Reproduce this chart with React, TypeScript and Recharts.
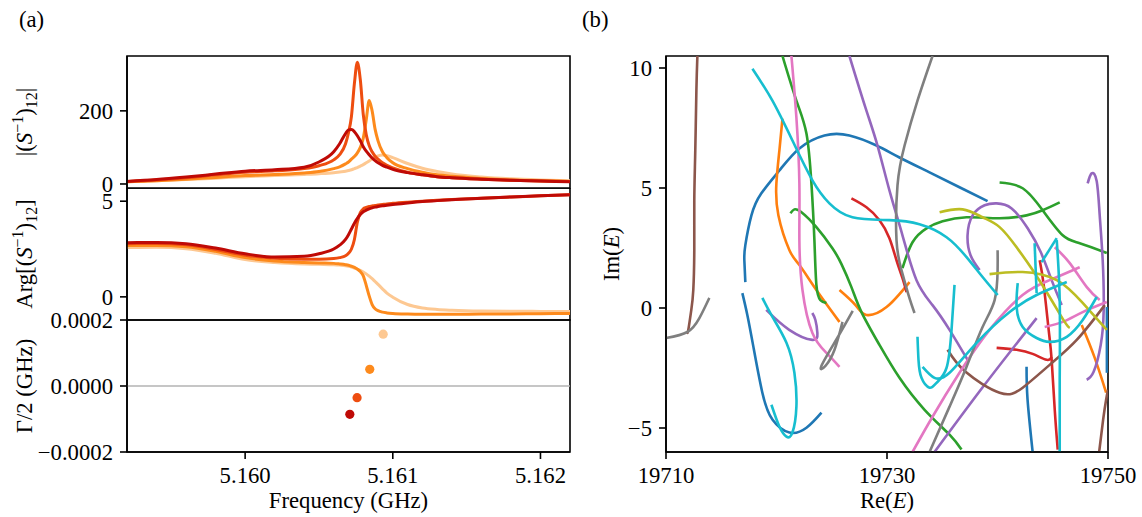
import React from 'react';
import { LineChart, Line, XAxis, YAxis, ScatterChart, Scatter, ReferenceLine, ReferenceArea, Label } from 'recharts';

// ---------- Panel (a) data ----------
const freq = [5.1592, 5.1594, 5.1596, 5.1598, 5.16, 5.1602, 5.1604, 5.1605, 5.1606, 5.16064, 5.16068, 5.1607, 5.16072, 5.16074, 5.16076, 5.16078, 5.1608, 5.16082, 5.16084, 5.16086, 5.16088, 5.1609, 5.16093, 5.16096, 5.161, 5.1611, 5.1612, 5.1613, 5.1614, 5.1616, 5.1618, 5.162, 5.1622];

const magLight = [6, 9, 12, 16, 20, 23, 26, 28, 31, 33, 35, 37, 39, 42, 45, 49, 53, 58, 63, 69, 74, 77, 79, 77, 72, 56, 43, 34, 27, 19, 14, 11, 9];
const magOrange = [6, 9, 13, 18, 23, 26, 30, 34, 42, 47, 55, 60, 68, 75, 85, 100, 125, 175, 228, 200, 150, 118, 88, 72, 58, 42, 32, 25, 21, 15, 11, 9, 7];
const magRedOrange = [7, 11, 17, 25, 32, 36, 42, 50, 66, 80, 110, 140, 185, 275, 333, 285, 190, 135, 105, 88, 76, 68, 58, 51, 44, 32, 25, 20, 17, 13, 10, 8, 7];
const magDark = [7, 12, 19, 27, 35, 39, 46, 60, 88, 110, 138, 148, 149, 143, 132, 118, 102, 90, 80, 71, 64, 58, 51, 46, 40, 31, 25, 20, 17, 13, 10, 8, 6];

const phLight = [2.58, 2.59, 2.52, 2.28, 1.95, 1.8, 1.72, 1.7, 1.68, 1.66, 1.63, 1.6, 1.56, 1.51, 1.45, 1.38, 1.3, 1.2, 1.08, 0.95, 0.8, 0.65, 0.42, 0.2, -0.02, -0.4, -0.58, -0.66, -0.7, -0.74, -0.75, -0.76, -0.76];
const phOrange = [2.68, 2.69, 2.62, 2.38, 2.05, 1.88, 1.8, 1.77, 1.75, 1.72, 1.68, 1.65, 1.6, 1.54, 1.45, 1.32, 1.1, 0.6, 0.05, -0.4, -0.62, -0.72, -0.8, -0.84, -0.87, -0.9, -0.91, -0.91, -0.91, -0.9, -0.89, -0.88, -0.87];
const phRedOrange = [2.78, 2.79, 2.72, 2.48, 2.18, 2.02, 1.96, 1.96, 2.0, 2.05, 2.15, 2.28, 2.5, 3.0, 3.9, 4.4, 4.6, 4.67, 4.72, 4.75, 4.78, 4.8, 4.83, 4.86, 4.89, 4.95, 5.0, 5.05, 5.09, 5.16, 5.22, 5.28, 5.34];
const phDark = [2.83, 2.84, 2.78, 2.55, 2.25, 2.08, 2.12, 2.25, 2.5, 2.7, 3.0, 3.25, 3.55, 3.85, 4.1, 4.3, 4.45, 4.53, 4.6, 4.65, 4.69, 4.72, 4.76, 4.79, 4.83, 4.91, 4.98, 5.03, 5.08, 5.15, 5.22, 5.28, 5.34];

const poleFreq = [5.160935, 5.160844, 5.160758, 5.160709];
const poleHalfWidth = [0.000157, 0.0000505, -0.0000354, -0.0000859];
const seriesColors = ['#fdc892', '#fd8a1c', '#ee4d10', '#bf0a06'];

const magTicks = [0, 200];
const phTicks = [0, 5];
const gammaTicks = [-0.0002, 0, 0.0002];
const freqTicks = [5.16, 5.161, 5.162];

// ---------- Panel (b) data: [Re(E), Im(E)] ----------
const brown1 = [[19712.84, 10.5], [19712.75, 9.06], [19712.65, 6.56], [19712.56, 4.49], [19712.56, 2.41], [19712.47, 0.75], [19712.29, -0.08], [19712.02, -0.91], [19711.93, -1.0]];
const brown2 = [[19735.48, -1.74], [19737.11, -2.66], [19740.19, -3.53], [19742.28, -3.32], [19744.72, -2.37], [19747.17, -1.33], [19749.71, 0.12]];
const brown3 = [[19749.2, -6.0], [19749.56, -4.65], [19749.83, -3.82], [19750.0, -3.41]];
const gray1 = [[19710.0, -1.25], [19711.93, -1.0], [19713.02, -0.42], [19713.92, 0.42]];
const gray2 = [[19726.9, -0.12], [19725.5, -1.25], [19724.07, -2.41], [19724.43, -2.41], [19725.25, -1.74], [19725.97, -0.58]];
const gray3 = [[19734.12, 10.5], [19732.76, 8.64], [19731.59, 6.77], [19730.95, 5.11], [19730.86, 2.83], [19731.31, 1.58], [19731.95, 0.54], [19732.49, -0.21]];
const gray4 = [[19733.85, -6.0], [19735.66, -4.11], [19737.2, -2.45], [19738.65, -0.79], [19739.74, 0.33], [19740.01, 1.58], [19740.01, 2.41]];
const purple1 = [[19726.6, 10.5], [19728.05, 8.35], [19729.14, 6.77], [19730.22, 4.9], [19731.4, 3.03], [19732.67, 1.16], [19734.12, 0.12], [19735.66, -0.91], [19737.29, -2.16]];
const purple2 = [[19738.38, 1.58], [19737.56, 2.2], [19737.29, 3.03], [19737.75, 3.86], [19738.83, 4.28], [19739.92, 4.36], [19741.28, 4.15], [19742.73, 3.32], [19743.91, 2.33], [19744.9, 1.16], [19745.81, 0.12]];
const purple3 = [[19748.16, 5.19], [19748.52, 5.61], [19748.98, 5.28], [19749.25, 3.86], [19749.52, 1.99], [19749.61, -0.08], [19749.34, -1.54], [19748.7, -2.66], [19748.07, -2.99]];
const purple4 = [[19743.54, -0.42], [19738.83, -3.2], [19734.3, -6.0]];
const purple5 = [[19719.07, -0.08], [19721.15, -0.91], [19723.24, -1.33], [19723.7, -1.04], [19723.52, -0.5], [19723.24, -0.21]];
const blue1 = [[19717.18, 1.08], [19717.09, 1.99], [19717.18, 2.62], [19717.73, 3.86], [19718.63, 4.78], [19720.26, 5.73], [19722.07, 6.65], [19724.34, 7.19], [19726.6, 7.19], [19729.05, 6.77], [19731.13, 6.27], [19733.85, 5.65], [19736.56, 5.03], [19739.1, 4.45]];
const blue2 = [[19716.91, 0.62], [19717.36, -0.29], [19717.91, -1.62], [19718.72, -3.53], [19719.63, -4.65], [19721.17, -5.19], [19722.71, -4.99], [19724.07, -4.36]];
const blue3 = [[19742.63, -2.45], [19742.72, -3.82], [19743.18, -6.0]];
const blue4 = [[19749.9, 0.04], [19749.9, -2.7]];
const orange1 = [[19720.54, 7.89], [19720.26, 6.56], [19719.99, 5.19], [19720.17, 3.86], [19721.17, 2.41], [19722.07, 1.79], [19723.61, 0.75], [19725.7, -0.58]];
const orange2 = [[19725.7, 0.75], [19727.15, 0.12], [19728.14, -0.29], [19729.96, 0.04], [19732.04, 1.08]];
const orange3 = [[19747.62, -0.71], [19748.8, -2.08], [19749.83, -3.53]];
const green1 = [[19720.54, 10.5], [19721.8, 8.64], [19722.71, 7.27], [19723.16, 5.19], [19723.43, 2.83], [19723.61, 0.96], [19723.97, 0.33], [19724.52, 0.21]];
const green2 = [[19721.26, 3.95], [19721.62, 4.11], [19722.26, 3.99], [19723.61, 3.37], [19725.06, 2.49], [19725.88, 1.83], [19726.78, 0.87], [19727.69, -0.17], [19729.32, -1.54], [19731.13, -2.91], [19733.4, -4.24], [19735.66, -5.28], [19736.74, -5.9]];
const green3 = [[19731.4, 1.66], [19732.31, 2.74], [19733.58, 3.32], [19735.03, 3.61], [19737.2, 3.78], [19740.19, 3.74], [19742.63, 3.86], [19744.09, 4.07], [19745.63, 4.4]];
const green4 = [[19740.19, 5.23], [19742.28, 4.99], [19744.09, 4.07], [19745.9, 3.03], [19747.44, 2.7], [19749.89, 2.29]];
const red1 = [[19726.78, 4.57], [19728.14, 4.2], [19729.32, 3.66], [19730.22, 2.91], [19730.86, 1.99], [19731.4, 1.25], [19731.77, 0.66]];
const red2 = [[19743.82, 1.99], [19744.18, 0.96], [19744.63, -0.91], [19744.9, -2.16], [19745.18, -4.24], [19745.45, -5.9]];
const red3 = [[19739.92, -1.66], [19741.73, -1.74], [19743.18, -1.91], [19744.45, -2.16], [19744.9, -2.04]];
const pink1 = [[19721.35, 10.5], [19721.8, 7.94], [19722.07, 5.19], [19722.07, 2.83], [19722.35, 0.75], [19723.25, -1.04], [19724.52, -1.87], [19725.7, -2.45]];
const pink2 = [[19732.31, -6.0], [19734.12, -4.53], [19736.56, -2.7], [19739.28, -0.91], [19742.27, 0.54], [19744.72, 1.16], [19747.44, 1.7]];
const pink3 = [[19745.18, 2.53], [19746.54, 1.87], [19748.08, 0.87], [19749.25, 0.33]];
const pink4 = [[19744.27, -0.79], [19745.9, -0.58], [19747.71, -0.17], [19749.89, 0.25]];
const cyan1 = [[19717.82, 9.97], [19719.63, 8.64], [19721.44, 6.98], [19723.25, 5.32], [19724.79, 4.36], [19726.87, 3.78], [19730.22, 3.66], [19732.94, 3.49], [19735.39, 2.95], [19737.2, 2.12], [19738.65, 1.29], [19740.01, 0.54]];
const cyan2 = [[19718.72, 0.42], [19719.63, -0.37], [19720.9, -1.45], [19721.62, -2.7], [19721.8, -4.11], [19721.44, -5.19], [19720.9, -5.36], [19720.26, -4.94], [19719.54, -4.03]];
const cyan3 = [[19732.76, -1.2], [19732.85, -2.16], [19733.12, -2.91], [19733.85, -3.32], [19734.48, -3.12], [19735.39, -2.49], [19735.84, -0.91], [19736.11, 0.96]];
const cyan4 = [[19733.22, -2.45], [19734.3, -2.91], [19735.66, -2.7], [19738.11, -1.45], [19741.1, -0.17], [19743.54, 0.54], [19746.27, 1.08]];
const cyan5 = [[19741.83, 1.04], [19741.73, 0.04], [19742.28, -0.79], [19743.54, -1.25], [19744.72, -1.41], [19746.27, -1.2], [19747.71, -0.5], [19748.98, 0.46]];
const cyan6 = [[19745.36, 2.83], [19745.63, 0.33], [19745.63, -2.99], [19745.63, -6.0]];
const cyan7 = [[19743.36, 2.7], [19743.54, 0.62]];
const cyan8 = [[19743.99, 1.91], [19745.36, 2.91]];
const olive1 = [[19734.76, 3.99], [19736.84, 4.11], [19738.65, 3.78], [19740.19, 3.37], [19741.73, 2.53], [19743.18, 1.58], [19744.72, 0.46], [19746.08, -0.58], [19746.54, -0.83]];
const olive2 = [[19739.28, 1.41], [19742.27, 1.5], [19745.36, 1.16], [19747.71, 0.21], [19749.89, -0.91]];

const reTicks = [19710, 19730, 19750];
const imTicks = [-5, 0, 5, 10];

const curvesB: [number[][], string][] = [
  [blue1, '#1f77b4'], [blue2, '#1f77b4'], [blue3, '#1f77b4'], [blue4, '#1f77b4'],
  [orange1, '#ff7f0e'], [orange2, '#ff7f0e'], [orange3, '#ff7f0e'],
  [green1, '#2ca02c'], [green2, '#2ca02c'], [green3, '#2ca02c'], [green4, '#2ca02c'],
  [red1, '#d62728'], [red2, '#d62728'], [red3, '#d62728'],
  [purple1, '#9467bd'], [purple2, '#9467bd'], [purple3, '#9467bd'], [purple4, '#9467bd'], [purple5, '#9467bd'],
  [brown1, '#8c564b'], [brown2, '#8c564b'], [brown3, '#8c564b'],
  [pink1, '#e377c2'], [pink2, '#e377c2'], [pink3, '#e377c2'], [pink4, '#e377c2'],
  [gray1, '#7f7f7f'], [gray2, '#7f7f7f'], [gray3, '#7f7f7f'], [gray4, '#7f7f7f'],
  [olive1, '#bcbd22'], [olive2, '#bcbd22'],
  [cyan1, '#17becf'], [cyan2, '#17becf'], [cyan3, '#17becf'], [cyan4, '#17becf'], [cyan5, '#17becf'], [cyan6, '#17becf'], [cyan7, '#17becf'], [cyan8, '#17becf'],
];

// ---------- styling ----------
const FONT = '"Liberation Serif", "DejaVu Serif", serif';
const FS = 22.7;
const spine = { stroke: '#000', strokeWidth: 1.6 };
const tickStyle = { fill: '#000', fontSize: FS, fontFamily: FONT };
const FREQ_DOMAIN: [number, number] = [5.1592, 5.1622];
const MAG_DOMAIN: [number, number] = [-11, 350];
const PH_DOMAIN: [number, number] = [-1.21, 5.69];
const GAM_DOMAIN: [number, number] = [-0.0002, 0.0002];
const RE_DOMAIN: [number, number] = [19710, 19750];
const IM_DOMAIN: [number, number] = [-6, 10.5];

const rowsA = freq.map((f, i) => ({
  f,
  m0: magLight[i], m1: magOrange[i], m2: magRedOrange[i], m3: magDark[i],
  p0: phLight[i], p1: phOrange[i], p2: phRedOrange[i], p3: phDark[i],
}));

const fmtSigned = (v: number, digits: number) => {
  const s = Math.abs(v).toFixed(digits);
  return v < 0 ? '\u2212' + s : s;
};

const RotText = ({ x, y, children }: { x: number; y: number; children: React.ReactNode }) => (
  <text x={x} y={y} transform={`rotate(-90, ${x}, ${y})`} textAnchor="middle" fontFamily={FONT} fontSize={FS} fill="#000">
    {children}
  </text>
);

const SInv = () => (
  <>
    <tspan>(</tspan>
    <tspan fontStyle="italic">S</tspan>
    <tspan fontSize={16} dy={-9}>{'\u22121'}</tspan>
    <tspan dy={9}>)</tspan>
    <tspan fontSize={16} dy={5}>12</tspan>
  </>
);

const frame = (xd: [number, number], yd: [number, number]) => (
  <ReferenceArea x1={xd[0]} x2={xd[1]} y1={yd[0]} y2={yd[1]} fill="none" fillOpacity={0} stroke="#000" strokeWidth={1.6} ifOverflow="visible" />
);

export default function App() {
  const lineKeysMag = ['m0', 'm1', 'm2', 'm3'];
  const lineKeysPh = ['p0', 'p1', 'p2', 'p3'];
  return (
    <div style={{ position: 'absolute', left: 0, top: 0, width: 1142, height: 517, background: '#fff', overflow: 'hidden' }}>
      {/* (a) top: magnitude */}
      <div style={{ position: 'absolute', left: 0, top: 0 }}>
        <LineChart width={600} height={196} data={rowsA} margin={{ top: 56, right: 30, bottom: 8, left: 0 }}>
          <XAxis dataKey="f" type="number" domain={FREQ_DOMAIN} allowDataOverflow height={0} tick={false} tickLine={false} axisLine={spine} />
          <YAxis type="number" domain={MAG_DOMAIN} allowDataOverflow ticks={magTicks} interval={0} width={127} tick={tickStyle} tickLine={spine} tickSize={7} tickMargin={7} axisLine={spine}>
            <Label content={() => (
              <g>
                <text x={19} y={27} fontFamily={FONT} fontSize={FS} fill="#000">(a)</text>
                <RotText x={32} y={122}>
                  <tspan>|</tspan><SInv /><tspan dy={-5}>|</tspan>
                </RotText>
              </g>
            )} />
          </YAxis>
          {frame(FREQ_DOMAIN, MAG_DOMAIN)}
          {lineKeysMag.map((k, i) => (
            <Line key={k} dataKey={k} type="monotone" stroke={seriesColors[i]} strokeWidth={3} dot={false} isAnimationActive={false} />
          ))}
        </LineChart>
      </div>

      {/* (a) middle: phase */}
      <div style={{ position: 'absolute', left: 0, top: 188 }}>
        <LineChart width={600} height={140} data={rowsA} margin={{ top: 0, right: 30, bottom: 8, left: 0 }}>
          <XAxis dataKey="f" type="number" domain={FREQ_DOMAIN} allowDataOverflow height={0} tick={false} tickLine={false} axisLine={spine} />
          <YAxis type="number" domain={PH_DOMAIN} allowDataOverflow ticks={phTicks} interval={0} width={127} tick={tickStyle} tickLine={spine} tickSize={7} tickMargin={7} axisLine={spine}>
            <Label content={() => (
              <RotText x={32} y={66}>
                <tspan>Arg[</tspan><SInv /><tspan dy={-5}>]</tspan>
              </RotText>
            )} />
          </YAxis>
          {frame(FREQ_DOMAIN, PH_DOMAIN)}
          {lineKeysPh.map((k, i) => (
            <Line key={k} dataKey={k} type="monotone" stroke={seriesColors[i]} strokeWidth={3} dot={false} isAnimationActive={false} />
          ))}
        </LineChart>
      </div>

      {/* (a) bottom: Gamma/2 */}
      <div style={{ position: 'absolute', left: 0, top: 308 }}>
        <ScatterChart width={600} height={209} margin={{ top: 12, right: 30, bottom: 0, left: 0 }}>
          <XAxis dataKey="f" type="number" domain={FREQ_DOMAIN} allowDataOverflow ticks={freqTicks} interval={0} tickFormatter={(v: number) => v.toFixed(3)} height={65} tick={tickStyle} tickLine={spine} tickSize={7} tickMargin={8} axisLine={spine}>
            <Label content={() => (
              <text x={348.5} y={200} textAnchor="middle" fontFamily={FONT} fontSize={FS} fill="#000">Frequency (GHz)</text>
            )} />
          </XAxis>
          <YAxis dataKey="g" type="number" domain={GAM_DOMAIN} allowDataOverflow ticks={gammaTicks} interval={0} tickFormatter={(v: number) => fmtSigned(v, 4)} width={127} tick={tickStyle} tickLine={spine} tickSize={7} tickMargin={7} axisLine={spine}>
            <Label content={() => (
              <RotText x={32} y={78}>
                <tspan>{'\u0393/2 (GHz)'}</tspan>
              </RotText>
            )} />
          </YAxis>
          <ReferenceLine y={0} stroke="#b3b3b3" strokeWidth={1.3} />
          {frame(FREQ_DOMAIN, GAM_DOMAIN)}
          {poleFreq.map((f, i) => (
            <Scatter
              key={i}
              data={[{ f, g: poleHalfWidth[i] }]}
              fill={seriesColors[i]}
              isAnimationActive={false}
              shape={(p: any) => <circle cx={p.cx} cy={p.cy} r={4.6} fill={seriesColors[i]} />}
            />
          ))}
        </ScatterChart>
      </div>

      {/* (b) complex energies */}
      <div style={{ position: 'absolute', left: 580, top: 0 }}>
        <LineChart width={562} height={517} margin={{ top: 56, right: 34, bottom: 0, left: 0 }}>
          <XAxis dataKey="x" type="number" domain={RE_DOMAIN} allowDataOverflow ticks={reTicks} interval={0} height={65} tick={tickStyle} tickLine={spine} tickSize={7} tickMargin={8} axisLine={spine}>
            <Label content={() => (
              <text x={307} y={508} textAnchor="middle" fontFamily={FONT} fontSize={FS} fill="#000">
                <tspan>Re(</tspan><tspan fontStyle="italic">E</tspan><tspan>)</tspan>
              </text>
            )} />
          </XAxis>
          <YAxis dataKey="y" type="number" domain={IM_DOMAIN} allowDataOverflow ticks={imTicks} interval={0} tickFormatter={(v: number) => fmtSigned(v, 0)} width={86} tick={tickStyle} tickLine={spine} tickSize={7} tickMargin={7} axisLine={spine}>
            <Label content={() => (
              <g>
                <text x={2} y={27} fontFamily={FONT} fontSize={FS} fill="#000">(b)</text>
                <RotText x={39} y={254}>
                  <tspan>Im(</tspan><tspan fontStyle="italic">E</tspan><tspan>)</tspan>
                </RotText>
              </g>
            )} />
          </YAxis>
          {frame(RE_DOMAIN, IM_DOMAIN)}
          {curvesB.map(([pts, color], i) => (
            <Line
              key={i}
              data={pts.map(([x, y]) => ({ x, y }))}
              dataKey="y"
              type="natural"
              stroke={color}
              strokeWidth={2.6}
              dot={false}
              isAnimationActive={false}
            />
          ))}
        </LineChart>
      </div>
    </div>
  );
}
